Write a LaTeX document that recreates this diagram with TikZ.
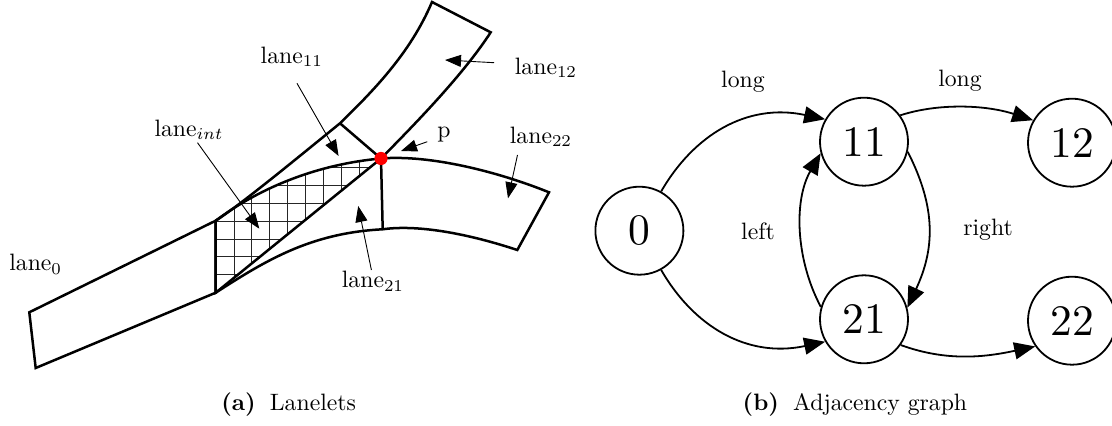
\documentclass[tikz,border=0pt]{standalone}
\usetikzlibrary{arrows.meta}
\tikzset{
  x=1pt,y=1pt,
  road/.style={line width=2.5pt,line join=miter},
  grid line/.style={line width=0.9pt,black!85},
  lbl/.style={inner sep=0pt,scale=2.37},
  thinarrow/.style={line width=0.9pt,-{Triangle[length=16pt,width=12pt]}},
  state/.style={circle,draw,line width=1.8pt,minimum size=88pt,inner sep=0pt},
  edge/.style={line width=1.8pt,-{Triangle[length=21pt,width=17pt]}},
}
\begin{document}
\begin{tikzpicture}
\useasboundingbox (0,0) rectangle (1112,426);
% lanelet corners
\coordinate (A1) at (29.3,113.7);
\coordinate (A2) at (35.7,58);
\coordinate (B1) at (215.7,205.3);
\coordinate (B2) at (215.7,133.3);
\coordinate (C) at (340,302.7);
\coordinate (D) at (432,424);
\coordinate (E) at (490.7,393.7);
\coordinate (P) at (381,267.5);
\coordinate (F) at (382.7,196.7);
\coordinate (G) at (517.3,176);
\coordinate (H) at (549,233.7);
% hatched intersection
\begin{scope}
\clip (B1) .. controls (262,240) and (320,262) .. (P) -- (B2) -- cycle;
\foreach \gx in {234,251.7,269.3,287.3,305.3,323.7,341.3,359}
  \draw[grid line] (\gx,130) -- (\gx,270);
\foreach \gy in {258.7,240.7,222.7,204.7,186.7,169.3,151.3}
  \draw[grid line] (210,\gy) -- (385,\gy);
\end{scope}
% lanes
\draw[road] (B1) .. controls (240,221) and (290,262) .. (C)
  .. controls (372,334) and (410,372) .. (D) -- (E)
  .. controls (463.5,351.7) and (416,303) .. (P) -- (C);
\draw[road] (B1) .. controls (262,240) and (320,262) .. (P)
  .. controls (430,271.5) and (498,254.3) .. (H) -- (G)
  .. controls (472,191) and (420,202) .. (F)
  .. controls (310,193) and (265,165) .. (B2) -- cycle;
\draw[road] (B1) -- (A1) -- (A2) -- (B2) -- cycle;
\draw[road] (P) -- (F);
\draw[road] (B2) -- (P);
\fill[red] (P) circle (6.6);
% labels
\node[lbl] (l0) at (35.7,162) {lane$_{0}$};
\node[lbl] (l11) at (291.8,369) {lane$_{11}$};
\node[lbl] (l12) at (546,358) {lane$_{12}$};
\node[lbl] (l21) at (373,145) {lane$_{21}$};
\node[lbl] (l22) at (541,289) {lane$_{22}$};
\node[lbl] (lint) at (189,296) {lane$_{int}$};
\node[lbl] (lp) at (444,291) {p};
\node[lbl] (capa) at (288.6,21) {\textbf{(a)}\hspace{0.6em}Lanelets};
\node[lbl] (capb) at (854.9,21) {\textbf{(b)}\hspace{0.6em}Adjacency graph};
% pointer ends
\coordinate (s11) at (297,342.7);
\coordinate (t11) at (338.6,270);
\coordinate (sint) at (197.5,283.3);
\coordinate (tint) at (259.3,197.3);
\coordinate (s12) at (494,363.3);
\coordinate (t12) at (445,366);
\coordinate (sp) at (427.3,284.3);
\coordinate (tp) at (401,275);
\coordinate (s22) at (517.5,271);
\coordinate (t22) at (508,227.7);
\coordinate (s21) at (371.4,156);
\coordinate (t21) at (358.2,220);
\draw[thinarrow] (s11) -- (t11);
\draw[thinarrow] (sint) -- (tint);
\draw[thinarrow] (s12) -- (t12);
\draw[thinarrow] (sp) -- (tp);
\draw[thinarrow] (s22) -- (t22);
\draw[thinarrow] (s21) -- (t21);
% graph
\node[state] (n0) at (639.4,195.3) {\scalebox{4.35}{0}};
\node[state] (n11) at (864,284.3) {\scalebox{4.35}{11}};
\node[state] (n12) at (1072,283.3) {\scalebox{4.35}{12}};
\node[state] (n21) at (864,106.7) {\scalebox{4.35}{21}};
\node[state] (n22) at (1072,105.3) {\scalebox{4.35}{22}};
\draw[edge] (n0.61) .. controls +(60:65) and +(168:80) .. (n11.150);
\draw[edge] (n0.-61) .. controls +(-60:65) and +(-168:80) .. (n21.-150);
\draw[edge] (n11.36) .. controls +(18:40) and +(162:50) .. (n12.150);
\draw[edge] (n21.-35) .. controls +(-20:50) and +(-168:50) .. (n22.-145);
\draw[edge] (n21.164) .. controls +(118:54) and +(-120:54) .. (n11.-165);
\draw[edge] (n11.-13) .. controls +(-63:64) and +(65:64) .. (n21.15);
% graph labels
\node[lbl] (e1) at (742.9,344) {long};
\node[lbl] (e2) at (960,345.5) {long};
\node[lbl] (e3) at (758,194.5) {left};
\node[lbl] (e4) at (988,196) {right};
\end{tikzpicture}
\end{document}
